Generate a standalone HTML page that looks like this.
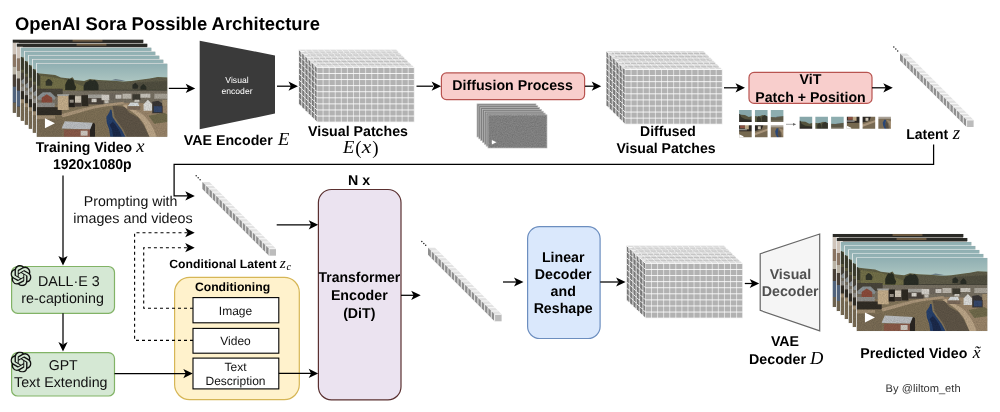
<!DOCTYPE html>
<html><head><meta charset="utf-8"><title>OpenAI Sora Possible Architecture</title>
<style>
html,body{margin:0;padding:0;background:#fff;}
body{width:1000px;height:412px;overflow:hidden;font-family:"Liberation Sans",sans-serif;}
svg{display:block;text-rendering:geometricPrecision;opacity:0.999}
</style></head><body>
<svg width="1000" height="412" viewBox="0 0 1000 412">
<defs>

<linearGradient id="sky" x1="0" y1="0" x2="0" y2="1"><stop offset="0" stop-color="#8cacb0"/><stop offset="1" stop-color="#b0c8c3"/></linearGradient>
<filter id="b1" x="-5%" y="-5%" width="110%" height="110%"><feGaussianBlur stdDeviation="0.55"/></filter>
<filter id="b2" x="-5%" y="-5%" width="110%" height="110%"><feGaussianBlur stdDeviation="0.9"/></filter>
<filter id="grain" x="0" y="0" width="100%" height="100%"><feTurbulence type="fractalNoise" baseFrequency="0.9" numOctaves="2" seed="3" result="n"/><feColorMatrix type="matrix" values="0 0 0 0 0  0 0 0 0 0  0 0 0 0 0  0.9 0 0 -0.42 0"/></filter>
<filter id="grain2" x="0" y="0" width="100%" height="100%"><feTurbulence type="fractalNoise" baseFrequency="0.8" numOctaves="2" seed="7" result="n"/><feColorMatrix type="matrix" values="0 0 0 0 1  0 0 0 0 1  0 0 0 0 1  0.9 0 0 -0.42 0"/></filter>
<clipPath id="land"><path d="M-2,9.8 L8.7,10.9 18.4,11.9 24.2,14.3 33,15.3 35.9,14.1 37.8,16.7 47.5,17.7 53.4,15.8 62.1,16.7 72.7,17.2 87.3,18.2 95,17.7 105.7,16.3 113.5,15.3 121.3,13.8 133,14.3 V75 H-2Z"/></clipPath>
<clipPath id="sc"><rect width="131" height="73"/></clipPath>
<symbol id="scene" viewBox="0 0 131 73" preserveAspectRatio="none">
<g clip-path="url(#sc)">
<rect width="131" height="73" fill="#6f634c"/>
<g filter="url(#b1)">
<rect x="-2" y="-2" width="135" height="22" fill="url(#sky)"/>
<!-- hills -->
<path d="M-2,9.3 L8.7,10.4 18.4,11.4 24.2,13.8 33,14.8 35.9,13.6 37.8,16.2 47.5,17.2 53.4,15.3 62.1,16.2 72.7,16.7 87.3,17.7 95,17.2 105.7,15.8 113.5,14.8 121.3,13.3 133,13.8 V32 H-2Z" fill="#5e5d43"/>
<path d="M60,17 L87,18.5 100,17.5 121,14 133,14.5 V30 H60Z" fill="#5e5c49"/>
<path d="M100,19 L133,17 V30 H96Z" fill="#514f40"/>
<path d="M4,12 L24,14.8 36,18.5 48,23 52,26 30,28 4,26Z" fill="#737048"/>
<!-- far mountains -->
<path d="M74,16.8 l5,-1.4 6,1 5,1.2Z" fill="#6b7c86"/>
<!-- trees -->
<path d="M-1,10 l2,-1 2,3 0,10 -5,0Z" fill="#3a3c2e"/>
<path d="M9,17.5 l2.5,-2.5 2.5,1 2,3 -1,3 -6,0Z" fill="#33362a"/>
<path d="M28.5,21 l1.5,-3.5 2,-2.5 1.5,1 1,-1.5 2.5,2 1,4 1.5,3 -1,3 -10,0Z" fill="#2b2e24"/>
<path d="M47,22 l2,-3.5 2.5,-1 2,-1.5 2.5,1 2,-1 2.5,2 1.5,3.5 0,5.5 -15,0Z" fill="#2c2f26"/>
<path d="M62,26 h70 v2.5 h-70Z" fill="#48473b"/>
<path d="M96,21 l3,-2 3,3 -1,3 -5,0Z M104,23 l3,-3 3,3 0,3 -6,0Z" fill="#2c2e27"/>
<!-- town band -->
<rect x="-2" y="27" width="135" height="14" fill="#776f62"/>
<path d="M-2,25 H26 V33 H-2Z" fill="#4a453a"/>
<!-- ground -->
<path d="M-2,41 H133 V75 H-2Z" fill="#83745a"/>
<path d="M-2,51 L25,50 60,42 74,40 73,48 69,54 70,60 74,75 -2,75Z" fill="#7e7056"/>
<path d="M76,42 L88,43 93,49 102,54 107,61 114,75 91,75 87,66 82,59 78,53Z" fill="#5e5547"/>
<path d="M86,39 L133,40 133,75 118,75 110,60 103,52 94,47 88,43Z" fill="#9a856a"/>
<path d="M112,52 L128,49 133,52 133,58 118,60Z" fill="#706b4b"/>
<!-- roads -->
<path d="M24,50.5 C38,47 52,42.5 66,40.5 L87,38 87.5,40.5 67,43 C54,45 40,50 26,53.5Z" fill="#ad987b"/>
<path d="M86,42 C94,47 103,52 108,61 L114,75 121,75 C117,62 110,52 102,48 C96,45 92,43 89,40.5Z" fill="#bca688"/>
<path d="M-2,52.2 L18.4,51.8 18.4,54.7 -2,55.5Z" fill="#a08d72"/>
<!-- river -->
<path d="M73.5,46 L73,48.4 69.8,53.2 70.2,59 72.6,65.8 74,75 90,75 85,65.8 80,59 76,53.2 75.4,48.4 75,46Z" fill="#27406c"/>
<path d="M73,61 L75.5,66 77,75 86,75 82.5,66 79,61 76.5,58Z" fill="#1b2a4c"/>

<!-- buildings left -->
<path d="M0.5,33 L6,28.5 14,28.5 19,33.5 18,36 1,36Z" fill="#8c9396"/>
<path d="M4.8,34 L10,30.5 15.5,34 15.5,39 4.8,39Z" fill="#8b4c3b"/>
<rect x="0.5" y="39" width="17.5" height="4.5" fill="#8f8e8a"/>
<rect x="-1" y="43.5" width="26" height="7.8" fill="#322d28"/>
<rect x="21" y="31.3" width="11" height="15" fill="#c5ae8b"/>
<rect x="20.5" y="30.5" width="12" height="1.8" fill="#a8a8a4"/>
<rect x="32" y="31.5" width="6.3" height="12" fill="#27231f"/>
<rect x="38.3" y="32.5" width="6.5" height="10" fill="#cfc6b6"/>
<rect x="38.3" y="39" width="6.5" height="4" fill="#4a4037"/>
<rect x="44.8" y="31.5" width="7" height="11" fill="#2d2924"/>
<rect x="51.4" y="30.8" width="15.6" height="4" fill="#a5a39c"/>
<rect x="51.4" y="34.5" width="15.6" height="6" fill="#4a433a"/>
<rect x="65" y="31" width="8" height="5.5" fill="#d3cfc8"/>
<rect x="73" y="30" width="12" height="6" fill="#6f695f"/>
<rect x="79" y="31" width="6" height="4" fill="#cfcbc4"/>
<rect x="86" y="30" width="9" height="5" fill="#bdb8ae"/>
<rect x="96" y="30.5" width="8" height="6" fill="#3e3a32"/>
<rect x="104" y="30" width="10" height="4" fill="#c9c5bc"/>
<rect x="118" y="30" width="13" height="5" fill="#aaa59a"/>
<rect x="55" y="35" width="5" height="3.5" fill="#d8d4cc"/><rect x="68" y="36.5" width="4" height="3" fill="#c9c4ba"/><rect x="98" y="36" width="5" height="2.5" fill="#cdc9c0"/><rect x="120" y="43" width="6" height="3" fill="#b9b09c"/><rect x="33" y="36" width="4" height="3" fill="#9c958a"/>
<!-- tent, white house -->
<path d="M91.2,42.5 L94,38.7 101.8,39 103,42.5Z" fill="#d6dadb"/>
<path d="M91,42.5 h13 v3.5 h-13Z" fill="#7b6b5a"/>
<path d="M107.2,40.5 L111.5,36 115.9,40.5 115.9,47 107.2,47Z" fill="#dcdcd9"/>
<path d="M115.9,38 l6,-1 4.5,3 0,9.5 -10.5,0Z" fill="#383634"/>
<path d="M117.5,42.5 h8 v6 h-8Z" fill="#34476b"/>
<rect x="126" y="36" width="5" height="6" fill="#a08e70"/>
<!-- foreground roof -->
<path d="M24.7,64.9 L28.1,57.6 56.3,59 54.3,65.8Z" fill="#bcbfc2"/>
<path d="M27.2,65.8 H53.4 V75 H27.2Z" fill="#8a5a4a"/>
<rect x="44" y="67" width="7" height="5" fill="#cfc9c0"/>
<path d="M53.4,66 l3,-7 2,1 0,15 -5,0Z" fill="#2a2520"/>
<rect x="-1" y="56" width="26" height="19" fill="#7a6c54"/>
</g>
<g clip-path="url(#land)"><rect width="131" height="73" filter="url(#grain)" opacity="0.22"/></g>
<polygon points="8.2,54.5 8.2,64.6 18.2,59.5" fill="#fff"/>
</g>
</symbol>
<symbol id="sceneDark" viewBox="0 0 131 73" preserveAspectRatio="none">
<g clip-path="url(#sc)">
<rect width="131" height="73" fill="#3a342c"/>
<g filter="url(#b1)">
<rect x="-2" y="-2" width="135" height="5" fill="#2b2a27"/>
<rect x="60" y="-1" width="30" height="3" fill="#6a5840"/>
<rect x="-2" y="3" width="8" height="12" fill="#cfc4ba"/>
<rect x="-2" y="15" width="8" height="12" fill="#8a7564"/>
<rect x="-2" y="27" width="8" height="8" fill="#b9b2a4"/>
<rect x="-2" y="35" width="8" height="12" fill="#4a4038"/>
<rect x="-2" y="47" width="8" height="16" fill="#51647c"/>
<rect x="-2" y="63" width="8" height="12" fill="#6d6250"/>
</g>
</g>
</symbol>
<symbol id="oai" viewBox="0 0 24 24"><path fill="#111" d="M22.2819 9.8211a5.9847 5.9847 0 0 0-.5157-4.9108 6.0462 6.0462 0 0 0-6.5098-2.9A6.0651 6.0651 0 0 0 4.9807 4.1818a5.9847 5.9847 0 0 0-3.9977 2.9 6.0462 6.0462 0 0 0 .7427 7.0966 5.98 5.98 0 0 0 .511 4.9107 6.051 6.051 0 0 0 6.5146 2.9001A5.9847 5.9847 0 0 0 13.2599 24a6.0557 6.0557 0 0 0 5.7718-4.2058 5.9894 5.9894 0 0 0 3.9977-2.9001 6.0557 6.0557 0 0 0-.7475-7.0729zm-9.022 12.6081a4.4755 4.4755 0 0 1-2.8764-1.0408l.1419-.0804 4.7783-2.7582a.7948.7948 0 0 0 .3927-.6813v-6.7369l2.02 1.1686a.071.071 0 0 1 .038.052v5.5826a4.504 4.504 0 0 1-4.4945 4.4944zm-9.6607-4.1254a4.4708 4.4708 0 0 1-.5346-3.0137l.142.0852 4.783 2.7582a.7712.7712 0 0 0 .7806 0l5.8428-3.3685v2.3324a.0804.0804 0 0 1-.0332.0615L9.74 19.9502a4.4992 4.4992 0 0 1-6.1408-1.6464zM2.3408 7.8956a4.485 4.485 0 0 1 2.3655-1.9728V11.6a.7664.7664 0 0 0 .3879.6765l5.8144 3.3543-2.0201 1.1685a.0757.0757 0 0 1-.071 0l-4.8303-2.7865A4.504 4.504 0 0 1 2.3408 7.872zm16.5963 3.8558L13.1038 8.364 15.1192 7.2a.0757.0757 0 0 1 .071 0l4.8303 2.7913a4.4944 4.4944 0 0 1-.6765 8.1042v-5.6772a.79.79 0 0 0-.407-.667zm2.0107-3.0231l-.142-.0852-4.7735-2.7818a.7759.7759 0 0 0-.7854 0L9.409 9.2297V6.8974a.0662.0662 0 0 1 .0284-.0615l4.8303-2.7866a4.4992 4.4992 0 0 1 6.6802 4.66zM8.3065 12.863l-2.02-1.1638a.0804.0804 0 0 1-.038-.0567V6.0742a4.4992 4.4992 0 0 1 7.3757-3.4537l-.142.0805L8.704 5.459a.7948.7948 0 0 0-.3927.6813zm1.0976-2.3654l2.602-1.4998 2.6069 1.4998v2.9994l-2.5974 1.4997-2.6067-1.4997Z"/></symbol>
<symbol id="patch0" viewBox="0 0 13 12" preserveAspectRatio="none"><g filter="url(#b1)"><rect x="-1" y="-1" width="15" height="14" fill="#86a6a9"/><path d="M-1,4.5 L6,5 10,7 14,6 14,13 -1,13Z" fill="#54533c"/><path d="M-1,4 l2,0 1,3 4,2 8,1 0,3 -15,0Z" fill="#33332a"/><rect x="-1" y="10" width="15" height="3" fill="#2e2b26"/></g></symbol>
<symbol id="patch1" viewBox="0 0 13 12" preserveAspectRatio="none"><g filter="url(#b1)"><rect x="-1" y="-1" width="15" height="14" fill="#8aaaad"/><path d="M-1,6 L4,6.5 8,5 14,7 14,13 -1,13Z" fill="#595840"/><path d="M2,8 l2,-2 2,2 1,5 -5,0Z M7,7 l3,-2 4,2 0,6 -7,0Z" fill="#34352b"/></g></symbol>
<symbol id="patch2" viewBox="0 0 13 12" preserveAspectRatio="none"><g filter="url(#b1)"><rect x="-1" y="-1" width="15" height="14" fill="#8dadaf"/><path d="M-1,7 L5,7.3 9,6.5 14,6 14,13 -1,13Z" fill="#5b5947"/><path d="M4,7.2 l3,-0.6 3,0.5Z" fill="#66788a"/><rect x="-1" y="10.5" width="15" height="3" fill="#7d7666"/></g></symbol>
<symbol id="patch3" viewBox="0 0 13 12" preserveAspectRatio="none"><g filter="url(#b1)"><rect x="-1" y="-1" width="15" height="14" fill="#75674f"/><rect x="-1" y="-1" width="15" height="7" fill="#2b2723"/><rect x="1" y="0" width="5" height="3" fill="#8a5040"/><rect x="6" y="-1" width="4" height="5" fill="#bca887"/><rect x="0" y="3.5" width="8" height="1.5" fill="#8e8d89"/></g><polygon points="0,9 0,13 4.5,13 4.5,11" fill="#fff"/></symbol>
<symbol id="patch4" viewBox="0 0 13 12" preserveAspectRatio="none"><g filter="url(#b1)"><rect x="-1" y="-1" width="15" height="14" fill="#786a52"/><path d="M-1,-1 H9 L7,4 -1,6Z" fill="#2c2824"/><path d="M3,1 h3 v3 h-3Z" fill="#cfc6b6"/><path d="M-1,8 L14,3 14,5 -1,10.5Z" fill="#a8947a"/></g></symbol>
<symbol id="patch5" viewBox="0 0 13 12" preserveAspectRatio="none"><g filter="url(#b1)"><rect x="-1" y="-1" width="15" height="14" fill="#7c6d56"/><rect x="-1" y="-1" width="15" height="3" fill="#a9a196"/><path d="M6,3 L4.5,6 5,9 7,13 10,13 8,9 7.5,6 8,3Z" fill="#2b4777"/><path d="M8.5,3 L11,7 13,13 14,13 14,5Z" fill="#9f8b70"/><path d="M8,4 l2,3 1,6 -2.5,0 -1.5,-4Z" fill="#574e42"/></g></symbol>

</defs>
<rect width="1000" height="412" fill="#fff"/>
<text x="15" y="29.6" font-family="Liberation Sans" font-size="18.4" font-weight="bold" text-anchor="start" fill="#000" textLength="305" lengthAdjust="spacingAndGlyphs">OpenAI Sora Possible Architecture</text>
<rect x="12.00" y="39.20" width="131.5" height="74" fill="#f4f6f6"/>
<use href="#sceneDark" x="12.80" y="39.70" width="130.5" height="73.0"/>
<rect x="16.00" y="43.20" width="131.5" height="74" fill="#f4f6f6"/>
<use href="#sceneDark" x="16.80" y="43.70" width="130.5" height="73.0"/>
<rect x="20.00" y="47.20" width="131.5" height="74" fill="#f4f6f6"/>
<use href="#scene" x="20.80" y="47.70" width="130.5" height="73.0"/>
<rect x="24.00" y="51.20" width="131.5" height="74" fill="#f4f6f6"/>
<use href="#scene" x="24.80" y="51.70" width="130.5" height="73.0"/>
<rect x="28.00" y="55.20" width="131.5" height="74" fill="#f4f6f6"/>
<use href="#scene" x="28.80" y="55.70" width="130.5" height="73.0"/>
<rect x="32.00" y="59.20" width="131.5" height="74" fill="#f4f6f6"/>
<use href="#scene" x="32.80" y="59.70" width="130.5" height="73.0"/>
<rect x="36.00" y="63.20" width="131.5" height="74" fill="#f4f6f6"/>
<use href="#scene" x="36.80" y="63.70" width="130.5" height="73.0"/>
<text x="35.7" y="151.6" font-family="Liberation Sans" font-size="14.2" font-weight="bold" text-anchor="start" fill="#000" textLength="96.5" lengthAdjust="spacingAndGlyphs">Training Video</text>
<text x="136.3" y="151.6" font-family="Liberation Serif" font-style="italic" font-size="18.5" text-anchor="start" fill="#000">x</text>
<text x="92.3" y="169.3" font-family="Liberation Sans" font-size="14.2" font-weight="bold" text-anchor="middle" fill="#000" textLength="78.8" lengthAdjust="spacingAndGlyphs">1920x1080p</text>
<path d="M168.8,88.4H188" fill="none" stroke="#000" stroke-width="1.25"/><polygon points="0.2,0 -9.3,-4.6 -6.9,0 -9.3,4.6" fill="#000" transform="translate(195,88.4) rotate(0)"/>
<polygon points="199.7,40.7 275,55.4 275,113.6 199.7,129.2" fill="#3a3a3a"/>
<text x="237" y="83" font-family="Liberation Sans" font-size="8.6" font-weight="normal" text-anchor="middle" fill="#fff">Visual</text>
<text x="237" y="93.6" font-family="Liberation Sans" font-size="8.6" font-weight="normal" text-anchor="middle" fill="#fff">encoder</text>
<text x="183.8" y="144.8" font-family="Liberation Sans" font-size="14.2" font-weight="bold" text-anchor="start" fill="#000" textLength="89" lengthAdjust="spacingAndGlyphs">VAE Encoder</text>
<text x="278" y="144.8" font-family="Liberation Serif" font-style="italic" font-size="18.5" text-anchor="start" fill="#000">E</text>
<path d="M277,86.2H291" fill="none" stroke="#000" stroke-width="1.25"/><polygon points="0.2,0 -9.3,-4.6 -6.9,0 -9.3,4.6" fill="#000" transform="translate(297.8,86.2) rotate(0)"/>
<rect x="301.00" y="51.60" width="97.28" height="54.72" fill="#b2b2b2"/>
<polygon points="301.00,51.60 398.28,51.60 396.18,49.50 298.90,49.50" fill="#dcdcdc"/>
<polygon points="301.00,51.60 301.00,106.32 298.90,104.22 298.90,49.50" fill="#777"/>
<path d="M301.00,55.06V51.60l-2.10,-2.10M307.08,55.06V51.60l-2.10,-2.10M313.16,55.06V51.60l-2.10,-2.10M319.24,55.06V51.60l-2.10,-2.10M325.32,55.06V51.60l-2.10,-2.10M331.40,55.06V51.60l-2.10,-2.10M337.48,55.06V51.60l-2.10,-2.10M343.56,55.06V51.60l-2.10,-2.10M349.64,55.06V51.60l-2.10,-2.10M355.72,55.06V51.60l-2.10,-2.10M361.80,55.06V51.60l-2.10,-2.10M367.88,55.06V51.60l-2.10,-2.10M373.96,55.06V51.60l-2.10,-2.10M380.04,55.06V51.60l-2.10,-2.10M386.12,55.06V51.60l-2.10,-2.10M392.20,55.06V51.60l-2.10,-2.10M398.28,55.06V51.60l-2.10,-2.10" fill="none" stroke="#fff" stroke-width="0.6"/>
<path d="M304.50,51.60H301.00l-2.10,-2.10M304.50,57.68H301.00l-2.10,-2.10M304.50,63.76H301.00l-2.10,-2.10M304.50,69.84H301.00l-2.10,-2.10M304.50,75.92H301.00l-2.10,-2.10M304.50,82.00H301.00l-2.10,-2.10M304.50,88.08H301.00l-2.10,-2.10M304.50,94.16H301.00l-2.10,-2.10M304.50,100.24H301.00l-2.10,-2.10M304.50,106.32H301.00l-2.10,-2.10" fill="none" stroke="#fff" stroke-width="0.85"/>
<path d="M396.18,49.30H298.70V104.22" fill="none" stroke="#fff" stroke-width="0.35"/>
<rect x="304.20" y="54.76" width="97.28" height="54.72" fill="#b2b2b2"/>
<polygon points="304.20,54.76 401.48,54.76 399.38,52.66 302.10,52.66" fill="#dcdcdc"/>
<polygon points="304.20,54.76 304.20,109.48 302.10,107.38 302.10,52.66" fill="#777"/>
<path d="M304.20,58.22V54.76l-2.10,-2.10M310.28,58.22V54.76l-2.10,-2.10M316.36,58.22V54.76l-2.10,-2.10M322.44,58.22V54.76l-2.10,-2.10M328.52,58.22V54.76l-2.10,-2.10M334.60,58.22V54.76l-2.10,-2.10M340.68,58.22V54.76l-2.10,-2.10M346.76,58.22V54.76l-2.10,-2.10M352.84,58.22V54.76l-2.10,-2.10M358.92,58.22V54.76l-2.10,-2.10M365.00,58.22V54.76l-2.10,-2.10M371.08,58.22V54.76l-2.10,-2.10M377.16,58.22V54.76l-2.10,-2.10M383.24,58.22V54.76l-2.10,-2.10M389.32,58.22V54.76l-2.10,-2.10M395.40,58.22V54.76l-2.10,-2.10M401.48,58.22V54.76l-2.10,-2.10" fill="none" stroke="#fff" stroke-width="0.6"/>
<path d="M307.70,54.76H304.20l-2.10,-2.10M307.70,60.84H304.20l-2.10,-2.10M307.70,66.92H304.20l-2.10,-2.10M307.70,73.00H304.20l-2.10,-2.10M307.70,79.08H304.20l-2.10,-2.10M307.70,85.16H304.20l-2.10,-2.10M307.70,91.24H304.20l-2.10,-2.10M307.70,97.32H304.20l-2.10,-2.10M307.70,103.40H304.20l-2.10,-2.10M307.70,109.48H304.20l-2.10,-2.10" fill="none" stroke="#fff" stroke-width="0.85"/>
<path d="M399.38,52.46H301.90V107.38" fill="none" stroke="#fff" stroke-width="0.35"/>
<rect x="307.40" y="57.92" width="97.28" height="54.72" fill="#b2b2b2"/>
<polygon points="307.40,57.92 404.68,57.92 402.58,55.82 305.30,55.82" fill="#dcdcdc"/>
<polygon points="307.40,57.92 307.40,112.64 305.30,110.54 305.30,55.82" fill="#777"/>
<path d="M307.40,61.38V57.92l-2.10,-2.10M313.48,61.38V57.92l-2.10,-2.10M319.56,61.38V57.92l-2.10,-2.10M325.64,61.38V57.92l-2.10,-2.10M331.72,61.38V57.92l-2.10,-2.10M337.80,61.38V57.92l-2.10,-2.10M343.88,61.38V57.92l-2.10,-2.10M349.96,61.38V57.92l-2.10,-2.10M356.04,61.38V57.92l-2.10,-2.10M362.12,61.38V57.92l-2.10,-2.10M368.20,61.38V57.92l-2.10,-2.10M374.28,61.38V57.92l-2.10,-2.10M380.36,61.38V57.92l-2.10,-2.10M386.44,61.38V57.92l-2.10,-2.10M392.52,61.38V57.92l-2.10,-2.10M398.60,61.38V57.92l-2.10,-2.10M404.68,61.38V57.92l-2.10,-2.10" fill="none" stroke="#fff" stroke-width="0.6"/>
<path d="M310.90,57.92H307.40l-2.10,-2.10M310.90,64.00H307.40l-2.10,-2.10M310.90,70.08H307.40l-2.10,-2.10M310.90,76.16H307.40l-2.10,-2.10M310.90,82.24H307.40l-2.10,-2.10M310.90,88.32H307.40l-2.10,-2.10M310.90,94.40H307.40l-2.10,-2.10M310.90,100.48H307.40l-2.10,-2.10M310.90,106.56H307.40l-2.10,-2.10M310.90,112.64H307.40l-2.10,-2.10" fill="none" stroke="#fff" stroke-width="0.85"/>
<path d="M402.58,55.62H305.10V110.54" fill="none" stroke="#fff" stroke-width="0.35"/>
<rect x="310.60" y="61.08" width="97.28" height="54.72" fill="#b2b2b2"/>
<polygon points="310.60,61.08 407.88,61.08 405.78,58.98 308.50,58.98" fill="#dcdcdc"/>
<polygon points="310.60,61.08 310.60,115.80 308.50,113.70 308.50,58.98" fill="#777"/>
<path d="M310.60,64.54V61.08l-2.10,-2.10M316.68,64.54V61.08l-2.10,-2.10M322.76,64.54V61.08l-2.10,-2.10M328.84,64.54V61.08l-2.10,-2.10M334.92,64.54V61.08l-2.10,-2.10M341.00,64.54V61.08l-2.10,-2.10M347.08,64.54V61.08l-2.10,-2.10M353.16,64.54V61.08l-2.10,-2.10M359.24,64.54V61.08l-2.10,-2.10M365.32,64.54V61.08l-2.10,-2.10M371.40,64.54V61.08l-2.10,-2.10M377.48,64.54V61.08l-2.10,-2.10M383.56,64.54V61.08l-2.10,-2.10M389.64,64.54V61.08l-2.10,-2.10M395.72,64.54V61.08l-2.10,-2.10M401.80,64.54V61.08l-2.10,-2.10M407.88,64.54V61.08l-2.10,-2.10" fill="none" stroke="#fff" stroke-width="0.6"/>
<path d="M314.10,61.08H310.60l-2.10,-2.10M314.10,67.16H310.60l-2.10,-2.10M314.10,73.24H310.60l-2.10,-2.10M314.10,79.32H310.60l-2.10,-2.10M314.10,85.40H310.60l-2.10,-2.10M314.10,91.48H310.60l-2.10,-2.10M314.10,97.56H310.60l-2.10,-2.10M314.10,103.64H310.60l-2.10,-2.10M314.10,109.72H310.60l-2.10,-2.10M314.10,115.80H310.60l-2.10,-2.10" fill="none" stroke="#fff" stroke-width="0.85"/>
<path d="M405.78,58.78H308.30V113.70" fill="none" stroke="#fff" stroke-width="0.35"/>
<rect x="313.80" y="64.24" width="97.28" height="54.72" fill="#b2b2b2"/>
<polygon points="313.80,64.24 411.08,64.24 408.98,62.14 311.70,62.14" fill="#dcdcdc"/>
<polygon points="313.80,64.24 313.80,118.96 311.70,116.86 311.70,62.14" fill="#777"/>
<path d="M313.80,67.70V64.24l-2.10,-2.10M319.88,67.70V64.24l-2.10,-2.10M325.96,67.70V64.24l-2.10,-2.10M332.04,67.70V64.24l-2.10,-2.10M338.12,67.70V64.24l-2.10,-2.10M344.20,67.70V64.24l-2.10,-2.10M350.28,67.70V64.24l-2.10,-2.10M356.36,67.70V64.24l-2.10,-2.10M362.44,67.70V64.24l-2.10,-2.10M368.52,67.70V64.24l-2.10,-2.10M374.60,67.70V64.24l-2.10,-2.10M380.68,67.70V64.24l-2.10,-2.10M386.76,67.70V64.24l-2.10,-2.10M392.84,67.70V64.24l-2.10,-2.10M398.92,67.70V64.24l-2.10,-2.10M405.00,67.70V64.24l-2.10,-2.10M411.08,67.70V64.24l-2.10,-2.10" fill="none" stroke="#fff" stroke-width="0.6"/>
<path d="M317.30,64.24H313.80l-2.10,-2.10M317.30,70.32H313.80l-2.10,-2.10M317.30,76.40H313.80l-2.10,-2.10M317.30,82.48H313.80l-2.10,-2.10M317.30,88.56H313.80l-2.10,-2.10M317.30,94.64H313.80l-2.10,-2.10M317.30,100.72H313.80l-2.10,-2.10M317.30,106.80H313.80l-2.10,-2.10M317.30,112.88H313.80l-2.10,-2.10M317.30,118.96H313.80l-2.10,-2.10" fill="none" stroke="#fff" stroke-width="0.85"/>
<path d="M408.98,61.94H311.50V116.86" fill="none" stroke="#fff" stroke-width="0.35"/>
<rect x="317.00" y="67.40" width="97.28" height="54.72" fill="#b2b2b2"/>
<polygon points="317.00,67.40 414.28,67.40 412.18,65.30 314.90,65.30" fill="#dcdcdc"/>
<polygon points="317.00,67.40 317.00,122.12 314.90,120.02 314.90,65.30" fill="#777"/>
<path d="M317.00,122.12V67.40l-2.10,-2.10M323.08,122.12V67.40l-2.10,-2.10M329.16,122.12V67.40l-2.10,-2.10M335.24,122.12V67.40l-2.10,-2.10M341.32,122.12V67.40l-2.10,-2.10M347.40,122.12V67.40l-2.10,-2.10M353.48,122.12V67.40l-2.10,-2.10M359.56,122.12V67.40l-2.10,-2.10M365.64,122.12V67.40l-2.10,-2.10M371.72,122.12V67.40l-2.10,-2.10M377.80,122.12V67.40l-2.10,-2.10M383.88,122.12V67.40l-2.10,-2.10M389.96,122.12V67.40l-2.10,-2.10M396.04,122.12V67.40l-2.10,-2.10M402.12,122.12V67.40l-2.10,-2.10M408.20,122.12V67.40l-2.10,-2.10M414.28,122.12V67.40l-2.10,-2.10" fill="none" stroke="#fff" stroke-width="0.6"/>
<path d="M414.28,67.40H317.00l-2.10,-2.10M414.28,73.48H317.00l-2.10,-2.10M414.28,79.56H317.00l-2.10,-2.10M414.28,85.64H317.00l-2.10,-2.10M414.28,91.72H317.00l-2.10,-2.10M414.28,97.80H317.00l-2.10,-2.10M414.28,103.88H317.00l-2.10,-2.10M414.28,109.96H317.00l-2.10,-2.10M414.28,116.04H317.00l-2.10,-2.10M414.28,122.12H317.00l-2.10,-2.10" fill="none" stroke="#fff" stroke-width="0.85"/>
<path d="M412.18,65.10H314.70V120.02" fill="none" stroke="#fff" stroke-width="0.35"/>
<text x="358" y="136.1" font-family="Liberation Sans" font-size="14.2" font-weight="bold" text-anchor="middle" fill="#000" textLength="100" lengthAdjust="spacingAndGlyphs">Visual Patches</text>
<text x="343" y="153.2" font-family="Liberation Serif" font-style="italic" font-size="18.5" text-anchor="start" fill="#000">E</text>
<text y="153.2" font-family="Liberation Serif" font-size="19"><tspan x="355.3" dy="0.5">(</tspan><tspan x="361.8" dy="-0.5" font-style="italic" textLength="9.6" lengthAdjust="spacingAndGlyphs">x</tspan><tspan x="372.3" dy="0.5">)</tspan></text>
<path d="M416.5,86.2H433" fill="none" stroke="#000" stroke-width="1.25"/><polygon points="0.2,0 -9.3,-4.6 -6.9,0 -9.3,4.6" fill="#000" transform="translate(440.9,86.2) rotate(0)"/>
<rect x="441.4" y="72.9" width="143.2" height="26.7" rx="5" fill="#f8cecc" stroke="#b85450" stroke-width="1.2"/>
<text x="512.6" y="89.9" font-family="Liberation Sans" font-size="14.2" font-weight="bold" text-anchor="middle" fill="#000" textLength="120.6" lengthAdjust="spacingAndGlyphs">Diffusion Process</text>
<path d="M585,86.2H594" fill="none" stroke="#000" stroke-width="1.25"/><polygon points="0.2,0 -9.3,-4.6 -6.9,0 -9.3,4.6" fill="#000" transform="translate(601,86.2) rotate(0)"/>
<g id="noisy">
<rect x="477.00" y="103.90" width="59" height="33.1" fill="#7e7e7e" stroke="#bcbcbc" stroke-width="0.7"/>
<rect x="478.83" y="105.73" width="59" height="33.1" fill="#7e7e7e" stroke="#bcbcbc" stroke-width="0.7"/>
<rect x="480.66" y="107.56" width="59" height="33.1" fill="#7e7e7e" stroke="#bcbcbc" stroke-width="0.7"/>
<rect x="482.49" y="109.39" width="59" height="33.1" fill="#7e7e7e" stroke="#bcbcbc" stroke-width="0.7"/>
<rect x="484.32" y="111.22" width="59" height="33.1" fill="#7e7e7e" stroke="#bcbcbc" stroke-width="0.7"/>
<rect x="486.15" y="113.05" width="59" height="33.1" fill="#7e7e7e" stroke="#bcbcbc" stroke-width="0.7"/>
<rect x="487.98" y="114.88" width="59" height="33.1" fill="#7e7e7e" stroke="#bcbcbc" stroke-width="0.7"/>
<rect x="488" y="114.9" width="59" height="33.1" filter="url(#grain)" opacity="0.2"/>
<rect x="488" y="114.9" width="59" height="33.1" filter="url(#grain2)" opacity="0.18"/>
<polygon points="491.8,140 491.8,144.6 496.5,142.3" fill="#fff"/>
</g>
<rect x="608.40" y="53.00" width="97.28" height="54.72" fill="#b2b2b2"/>
<polygon points="608.40,53.00 705.68,53.00 703.58,50.90 606.30,50.90" fill="#dcdcdc"/>
<polygon points="608.40,53.00 608.40,107.72 606.30,105.62 606.30,50.90" fill="#777"/>
<path d="M608.40,56.60V53.00l-2.10,-2.10M614.48,56.60V53.00l-2.10,-2.10M620.56,56.60V53.00l-2.10,-2.10M626.64,56.60V53.00l-2.10,-2.10M632.72,56.60V53.00l-2.10,-2.10M638.80,56.60V53.00l-2.10,-2.10M644.88,56.60V53.00l-2.10,-2.10M650.96,56.60V53.00l-2.10,-2.10M657.04,56.60V53.00l-2.10,-2.10M663.12,56.60V53.00l-2.10,-2.10M669.20,56.60V53.00l-2.10,-2.10M675.28,56.60V53.00l-2.10,-2.10M681.36,56.60V53.00l-2.10,-2.10M687.44,56.60V53.00l-2.10,-2.10M693.52,56.60V53.00l-2.10,-2.10M699.60,56.60V53.00l-2.10,-2.10M705.68,56.60V53.00l-2.10,-2.10" fill="none" stroke="#fff" stroke-width="0.6"/>
<path d="M612.02,53.00H608.40l-2.10,-2.10M612.02,59.08H608.40l-2.10,-2.10M612.02,65.16H608.40l-2.10,-2.10M612.02,71.24H608.40l-2.10,-2.10M612.02,77.32H608.40l-2.10,-2.10M612.02,83.40H608.40l-2.10,-2.10M612.02,89.48H608.40l-2.10,-2.10M612.02,95.56H608.40l-2.10,-2.10M612.02,101.64H608.40l-2.10,-2.10M612.02,107.72H608.40l-2.10,-2.10" fill="none" stroke="#fff" stroke-width="0.85"/>
<path d="M703.58,50.70H606.10V105.62" fill="none" stroke="#fff" stroke-width="0.35"/>
<rect x="611.72" y="56.30" width="97.28" height="54.72" fill="#b2b2b2"/>
<polygon points="611.72,56.30 709.00,56.30 706.90,54.20 609.62,54.20" fill="#dcdcdc"/>
<polygon points="611.72,56.30 611.72,111.02 609.62,108.92 609.62,54.20" fill="#777"/>
<path d="M611.72,59.90V56.30l-2.10,-2.10M617.80,59.90V56.30l-2.10,-2.10M623.88,59.90V56.30l-2.10,-2.10M629.96,59.90V56.30l-2.10,-2.10M636.04,59.90V56.30l-2.10,-2.10M642.12,59.90V56.30l-2.10,-2.10M648.20,59.90V56.30l-2.10,-2.10M654.28,59.90V56.30l-2.10,-2.10M660.36,59.90V56.30l-2.10,-2.10M666.44,59.90V56.30l-2.10,-2.10M672.52,59.90V56.30l-2.10,-2.10M678.60,59.90V56.30l-2.10,-2.10M684.68,59.90V56.30l-2.10,-2.10M690.76,59.90V56.30l-2.10,-2.10M696.84,59.90V56.30l-2.10,-2.10M702.92,59.90V56.30l-2.10,-2.10M709.00,59.90V56.30l-2.10,-2.10" fill="none" stroke="#fff" stroke-width="0.6"/>
<path d="M615.34,56.30H611.72l-2.10,-2.10M615.34,62.38H611.72l-2.10,-2.10M615.34,68.46H611.72l-2.10,-2.10M615.34,74.54H611.72l-2.10,-2.10M615.34,80.62H611.72l-2.10,-2.10M615.34,86.70H611.72l-2.10,-2.10M615.34,92.78H611.72l-2.10,-2.10M615.34,98.86H611.72l-2.10,-2.10M615.34,104.94H611.72l-2.10,-2.10M615.34,111.02H611.72l-2.10,-2.10" fill="none" stroke="#fff" stroke-width="0.85"/>
<path d="M706.90,54.00H609.42V108.92" fill="none" stroke="#fff" stroke-width="0.35"/>
<rect x="615.04" y="59.60" width="97.28" height="54.72" fill="#b2b2b2"/>
<polygon points="615.04,59.60 712.32,59.60 710.22,57.50 612.94,57.50" fill="#dcdcdc"/>
<polygon points="615.04,59.60 615.04,114.32 612.94,112.22 612.94,57.50" fill="#777"/>
<path d="M615.04,63.20V59.60l-2.10,-2.10M621.12,63.20V59.60l-2.10,-2.10M627.20,63.20V59.60l-2.10,-2.10M633.28,63.20V59.60l-2.10,-2.10M639.36,63.20V59.60l-2.10,-2.10M645.44,63.20V59.60l-2.10,-2.10M651.52,63.20V59.60l-2.10,-2.10M657.60,63.20V59.60l-2.10,-2.10M663.68,63.20V59.60l-2.10,-2.10M669.76,63.20V59.60l-2.10,-2.10M675.84,63.20V59.60l-2.10,-2.10M681.92,63.20V59.60l-2.10,-2.10M688.00,63.20V59.60l-2.10,-2.10M694.08,63.20V59.60l-2.10,-2.10M700.16,63.20V59.60l-2.10,-2.10M706.24,63.20V59.60l-2.10,-2.10M712.32,63.20V59.60l-2.10,-2.10" fill="none" stroke="#fff" stroke-width="0.6"/>
<path d="M618.66,59.60H615.04l-2.10,-2.10M618.66,65.68H615.04l-2.10,-2.10M618.66,71.76H615.04l-2.10,-2.10M618.66,77.84H615.04l-2.10,-2.10M618.66,83.92H615.04l-2.10,-2.10M618.66,90.00H615.04l-2.10,-2.10M618.66,96.08H615.04l-2.10,-2.10M618.66,102.16H615.04l-2.10,-2.10M618.66,108.24H615.04l-2.10,-2.10M618.66,114.32H615.04l-2.10,-2.10" fill="none" stroke="#fff" stroke-width="0.85"/>
<path d="M710.22,57.30H612.74V112.22" fill="none" stroke="#fff" stroke-width="0.35"/>
<rect x="618.36" y="62.90" width="97.28" height="54.72" fill="#b2b2b2"/>
<polygon points="618.36,62.90 715.64,62.90 713.54,60.80 616.26,60.80" fill="#dcdcdc"/>
<polygon points="618.36,62.90 618.36,117.62 616.26,115.52 616.26,60.80" fill="#777"/>
<path d="M618.36,66.50V62.90l-2.10,-2.10M624.44,66.50V62.90l-2.10,-2.10M630.52,66.50V62.90l-2.10,-2.10M636.60,66.50V62.90l-2.10,-2.10M642.68,66.50V62.90l-2.10,-2.10M648.76,66.50V62.90l-2.10,-2.10M654.84,66.50V62.90l-2.10,-2.10M660.92,66.50V62.90l-2.10,-2.10M667.00,66.50V62.90l-2.10,-2.10M673.08,66.50V62.90l-2.10,-2.10M679.16,66.50V62.90l-2.10,-2.10M685.24,66.50V62.90l-2.10,-2.10M691.32,66.50V62.90l-2.10,-2.10M697.40,66.50V62.90l-2.10,-2.10M703.48,66.50V62.90l-2.10,-2.10M709.56,66.50V62.90l-2.10,-2.10M715.64,66.50V62.90l-2.10,-2.10" fill="none" stroke="#fff" stroke-width="0.6"/>
<path d="M621.98,62.90H618.36l-2.10,-2.10M621.98,68.98H618.36l-2.10,-2.10M621.98,75.06H618.36l-2.10,-2.10M621.98,81.14H618.36l-2.10,-2.10M621.98,87.22H618.36l-2.10,-2.10M621.98,93.30H618.36l-2.10,-2.10M621.98,99.38H618.36l-2.10,-2.10M621.98,105.46H618.36l-2.10,-2.10M621.98,111.54H618.36l-2.10,-2.10M621.98,117.62H618.36l-2.10,-2.10" fill="none" stroke="#fff" stroke-width="0.85"/>
<path d="M713.54,60.60H616.06V115.52" fill="none" stroke="#fff" stroke-width="0.35"/>
<rect x="621.68" y="66.20" width="97.28" height="54.72" fill="#b2b2b2"/>
<polygon points="621.68,66.20 718.96,66.20 716.86,64.10 619.58,64.10" fill="#dcdcdc"/>
<polygon points="621.68,66.20 621.68,120.92 619.58,118.82 619.58,64.10" fill="#777"/>
<path d="M621.68,69.80V66.20l-2.10,-2.10M627.76,69.80V66.20l-2.10,-2.10M633.84,69.80V66.20l-2.10,-2.10M639.92,69.80V66.20l-2.10,-2.10M646.00,69.80V66.20l-2.10,-2.10M652.08,69.80V66.20l-2.10,-2.10M658.16,69.80V66.20l-2.10,-2.10M664.24,69.80V66.20l-2.10,-2.10M670.32,69.80V66.20l-2.10,-2.10M676.40,69.80V66.20l-2.10,-2.10M682.48,69.80V66.20l-2.10,-2.10M688.56,69.80V66.20l-2.10,-2.10M694.64,69.80V66.20l-2.10,-2.10M700.72,69.80V66.20l-2.10,-2.10M706.80,69.80V66.20l-2.10,-2.10M712.88,69.80V66.20l-2.10,-2.10M718.96,69.80V66.20l-2.10,-2.10" fill="none" stroke="#fff" stroke-width="0.6"/>
<path d="M625.30,66.20H621.68l-2.10,-2.10M625.30,72.28H621.68l-2.10,-2.10M625.30,78.36H621.68l-2.10,-2.10M625.30,84.44H621.68l-2.10,-2.10M625.30,90.52H621.68l-2.10,-2.10M625.30,96.60H621.68l-2.10,-2.10M625.30,102.68H621.68l-2.10,-2.10M625.30,108.76H621.68l-2.10,-2.10M625.30,114.84H621.68l-2.10,-2.10M625.30,120.92H621.68l-2.10,-2.10" fill="none" stroke="#fff" stroke-width="0.85"/>
<path d="M716.86,63.90H619.38V118.82" fill="none" stroke="#fff" stroke-width="0.35"/>
<rect x="625.00" y="69.50" width="97.28" height="54.72" fill="#b2b2b2"/>
<polygon points="625.00,69.50 722.28,69.50 720.18,67.40 622.90,67.40" fill="#dcdcdc"/>
<polygon points="625.00,69.50 625.00,124.22 622.90,122.12 622.90,67.40" fill="#777"/>
<path d="M625.00,124.22V69.50l-2.10,-2.10M631.08,124.22V69.50l-2.10,-2.10M637.16,124.22V69.50l-2.10,-2.10M643.24,124.22V69.50l-2.10,-2.10M649.32,124.22V69.50l-2.10,-2.10M655.40,124.22V69.50l-2.10,-2.10M661.48,124.22V69.50l-2.10,-2.10M667.56,124.22V69.50l-2.10,-2.10M673.64,124.22V69.50l-2.10,-2.10M679.72,124.22V69.50l-2.10,-2.10M685.80,124.22V69.50l-2.10,-2.10M691.88,124.22V69.50l-2.10,-2.10M697.96,124.22V69.50l-2.10,-2.10M704.04,124.22V69.50l-2.10,-2.10M710.12,124.22V69.50l-2.10,-2.10M716.20,124.22V69.50l-2.10,-2.10M722.28,124.22V69.50l-2.10,-2.10" fill="none" stroke="#fff" stroke-width="0.6"/>
<path d="M722.28,69.50H625.00l-2.10,-2.10M722.28,75.58H625.00l-2.10,-2.10M722.28,81.66H625.00l-2.10,-2.10M722.28,87.74H625.00l-2.10,-2.10M722.28,93.82H625.00l-2.10,-2.10M722.28,99.90H625.00l-2.10,-2.10M722.28,105.98H625.00l-2.10,-2.10M722.28,112.06H625.00l-2.10,-2.10M722.28,118.14H625.00l-2.10,-2.10M722.28,124.22H625.00l-2.10,-2.10" fill="none" stroke="#fff" stroke-width="0.85"/>
<path d="M720.18,67.20H622.70V122.12" fill="none" stroke="#fff" stroke-width="0.35"/>
<text x="668" y="136.3" font-family="Liberation Sans" font-size="14.2" font-weight="bold" text-anchor="middle" fill="#000" textLength="55.8" lengthAdjust="spacingAndGlyphs">Diffused</text>
<text x="666" y="153" font-family="Liberation Sans" font-size="14.2" font-weight="bold" text-anchor="middle" fill="#000" textLength="99.2" lengthAdjust="spacingAndGlyphs">Visual Patches</text>
<path d="M724,87.8H738" fill="none" stroke="#000" stroke-width="1.25"/><polygon points="0.2,0 -9.3,-4.6 -6.9,0 -9.3,4.6" fill="#000" transform="translate(744.8,87.8) rotate(0)"/>
<rect x="749" y="72.4" width="123" height="31" rx="5" fill="#f8cecc" stroke="#b85450" stroke-width="1.2"/>
<text x="810.5" y="83.9" font-family="Liberation Sans" font-size="14.2" font-weight="bold" text-anchor="middle" fill="#000">ViT</text>
<text x="810.5" y="101.6" font-family="Liberation Sans" font-size="14.2" font-weight="bold" text-anchor="middle" fill="#000" textLength="110.4" lengthAdjust="spacingAndGlyphs">Patch + Position</text>
<path d="M872,87.8H886" fill="none" stroke="#000" stroke-width="1.25"/><polygon points="0.2,0 -9.3,-4.6 -6.9,0 -9.3,4.6" fill="#000" transform="translate(892.6,87.8) rotate(0)"/>
<g id="patches">
<use href="#patch0" x="739.10" y="110.00" width="12.6" height="12"/>
<use href="#patch1" x="754.95" y="110.00" width="12.6" height="12"/>
<use href="#patch2" x="770.80" y="110.00" width="12.6" height="12"/>
<use href="#patch3" x="739.10" y="125.30" width="12.6" height="12"/>
<use href="#patch4" x="754.95" y="125.30" width="12.6" height="12"/>
<use href="#patch5" x="770.80" y="125.30" width="12.6" height="12"/>
<path d="M786,124.3H794" stroke="#666" stroke-width="0.6" fill="none"/><polygon points="796.2,124.3 793,122.9 793,125.7" fill="#666"/>
<use href="#patch0" x="799.60" y="116.80" width="12.6" height="12"/>
<use href="#patch1" x="815.35" y="116.80" width="12.6" height="12"/>
<use href="#patch2" x="831.10" y="116.80" width="12.6" height="12"/>
<use href="#patch3" x="846.85" y="116.80" width="12.6" height="12"/>
<use href="#patch4" x="862.60" y="116.80" width="12.6" height="12"/>
<use href="#patch5" x="878.35" y="116.80" width="12.6" height="12"/>
</g>
<polygon points="900.00,53.40 907.00,53.40 973.60,120.00 966.60,120.00" fill="#e2e2e2"/>
<polygon points="900.00,53.40 966.60,120.00 966.60,127.00 900.00,60.40" fill="#8f8f8f"/>
<rect x="966.60" y="120.00" width="7.0" height="7.0" fill="#bcbcbc"/>
<path d="M910.33,56.73H903.33V63.73M913.66,60.06H906.66V67.06M916.99,63.39H909.99V70.39M920.32,66.72H913.32V73.72M923.65,70.05H916.65V77.05M926.98,73.38H919.98V80.38M930.31,76.71H923.31V83.71M933.64,80.04H926.64V87.04M936.97,83.37H929.97V90.37M940.30,86.70H933.30V93.70M943.63,90.03H936.63V97.03M946.96,93.36H939.96V100.36M950.29,96.69H943.29V103.69M953.62,100.02H946.62V107.02M956.95,103.35H949.95V110.35M960.28,106.68H953.28V113.68M963.61,110.01H956.61V117.01M966.94,113.34H959.94V120.34M970.27,116.67H963.27V123.67M973.60,120.00H966.60V127.00" fill="none" stroke="#fff" stroke-width="0.8"/>
<circle cx="893.80" cy="47.10" r="0.75" fill="#222"/>
<circle cx="895.80" cy="49.10" r="0.75" fill="#222"/>
<circle cx="897.70" cy="51.00" r="0.75" fill="#222"/>
<text x="906.2" y="138.7" font-family="Liberation Sans" font-size="14.2" font-weight="bold" text-anchor="start" fill="#000" textLength="42" lengthAdjust="spacingAndGlyphs">Latent</text>
<text x="952.8" y="138.7" font-family="Liberation Serif" font-style="italic" font-size="19" text-anchor="start" fill="#000">z</text>
<path d="M933.6,144.4V164.3H174.1V195.9H188" fill="none" stroke="#000" stroke-width="1.25"/><polygon points="0.2,0 -9.3,-4.6 -6.9,0 -9.3,4.6" fill="#000" transform="translate(194.6,195.9) rotate(0)"/>
<path d="M63,175.4V258" fill="none" stroke="#000" stroke-width="1.25"/><polygon points="0.2,0 -9.3,-4.6 -6.9,0 -9.3,4.6" fill="#000" transform="translate(63,265.2) rotate(90)"/>
<rect x="11.6" y="266.5" width="102.9" height="46.8" rx="6" fill="#d5e8d4" stroke="#82b366" stroke-width="1.2"/>
<use href="#oai" x="10.4" y="265.0" width="21.2" height="21.2"/>
<text x="68.8" y="286.3" font-family="Liberation Sans" font-size="14.2" font-weight="normal" text-anchor="middle" fill="#111" textLength="61.8" lengthAdjust="spacingAndGlyphs">DALL·E 3</text>
<text x="62.6" y="303.4" font-family="Liberation Sans" font-size="14.2" font-weight="normal" text-anchor="middle" fill="#111" textLength="82.5" lengthAdjust="spacingAndGlyphs">re-captioning</text>
<path d="M63,313.2V344" fill="none" stroke="#000" stroke-width="1.25"/><polygon points="0.2,0 -9.3,-4.6 -6.9,0 -9.3,4.6" fill="#000" transform="translate(63,351.3) rotate(90)"/>
<rect x="11.6" y="352.6" width="102.9" height="43.4" rx="6" fill="#d5e8d4" stroke="#82b366" stroke-width="1.2"/>
<use href="#oai" x="10.4" y="351.4" width="21.2" height="21.2"/>
<text x="63.2" y="369.5" font-family="Liberation Sans" font-size="14.2" font-weight="normal" text-anchor="middle" fill="#111" textLength="29" lengthAdjust="spacingAndGlyphs">GPT</text>
<text x="60.8" y="386.6" font-family="Liberation Sans" font-size="14.2" font-weight="normal" text-anchor="middle" fill="#111" textLength="93.5" lengthAdjust="spacingAndGlyphs">Text Extending</text>
<text x="130.6" y="206.2" font-family="Liberation Sans" font-size="14.2" font-weight="normal" text-anchor="middle" fill="#111" textLength="93.6" lengthAdjust="spacingAndGlyphs">Prompting with</text>
<text x="133" y="222.8" font-family="Liberation Sans" font-size="14.2" font-weight="normal" text-anchor="middle" fill="#111" textLength="119.3" lengthAdjust="spacingAndGlyphs">images and videos</text>
<polygon points="202.40,182.10 209.40,182.10 276.00,248.70 269.00,248.70" fill="#e2e2e2"/>
<polygon points="202.40,182.10 269.00,248.70 269.00,255.70 202.40,189.10" fill="#8f8f8f"/>
<rect x="269.00" y="248.70" width="7.0" height="7.0" fill="#bcbcbc"/>
<path d="M212.73,185.43H205.73V192.43M216.06,188.76H209.06V195.76M219.39,192.09H212.39V199.09M222.72,195.42H215.72V202.42M226.05,198.75H219.05V205.75M229.38,202.08H222.38V209.08M232.71,205.41H225.71V212.41M236.04,208.74H229.04V215.74M239.37,212.07H232.37V219.07M242.70,215.40H235.70V222.40M246.03,218.73H239.03V225.73M249.36,222.06H242.36V229.06M252.69,225.39H245.69V232.39M256.02,228.72H249.02V235.72M259.35,232.05H252.35V239.05M262.68,235.38H255.68V242.38M266.01,238.71H259.01V245.71M269.34,242.04H262.34V249.04M272.67,245.37H265.67V252.37M276.00,248.70H269.00V255.70" fill="none" stroke="#fff" stroke-width="0.8"/>
<circle cx="196.20" cy="175.80" r="0.75" fill="#222"/>
<circle cx="198.20" cy="177.80" r="0.75" fill="#222"/>
<circle cx="200.10" cy="179.70" r="0.75" fill="#222"/>
<text x="169.3" y="267.5" font-family="Liberation Sans" font-size="12" font-weight="bold" text-anchor="start" fill="#000" textLength="107.2" lengthAdjust="spacingAndGlyphs">Conditional Latent</text>
<text x="279.8" y="267.5" font-family="Liberation Serif" font-style="italic" font-size="15.5" text-anchor="start" fill="#000">z</text>
<text x="286.5" y="270" font-family="Liberation Serif" font-style="italic" font-size="10.5" text-anchor="start" fill="#000">c</text>
<path d="M276.7,224.8H311" fill="none" stroke="#000" stroke-width="1.25"/><polygon points="0.2,0 -9.3,-4.6 -6.9,0 -9.3,4.6" fill="#000" transform="translate(318,224.8) rotate(0)"/>
<rect x="174.6" y="277.4" width="124.7" height="122.2" rx="15" fill="#fff2cc" stroke="#d6b656" stroke-width="1.2"/>
<text x="232.5" y="290.5" font-family="Liberation Sans" font-size="12.2" font-weight="bold" text-anchor="middle" fill="#000" textLength="75.2" lengthAdjust="spacingAndGlyphs">Conditioning</text>
<rect x="193" y="297.6" width="85.8" height="25.2" fill="#fff" stroke="#000" stroke-width="1.1"/>
<text x="235.5" y="314.6" font-family="Liberation Sans" font-size="12" font-weight="normal" text-anchor="middle" fill="#111">Image</text>
<rect x="193" y="328.4" width="85.8" height="24.8" fill="#fff" stroke="#000" stroke-width="1.1"/>
<text x="235.5" y="345" font-family="Liberation Sans" font-size="12" font-weight="normal" text-anchor="middle" fill="#111">Video</text>
<rect x="193" y="358.1" width="85.8" height="30.8" fill="#fff" stroke="#000" stroke-width="1.1"/>
<text x="235.5" y="370.5" font-family="Liberation Sans" font-size="12" font-weight="normal" text-anchor="middle" fill="#111">Text</text>
<text x="235.5" y="385" font-family="Liberation Sans" font-size="12" font-weight="normal" text-anchor="middle" fill="#111">Description</text>
<path d="M114.5,373.6H186" fill="none" stroke="#000" stroke-width="1.25"/><polygon points="0.2,0 -9.3,-4.6 -6.9,0 -9.3,4.6" fill="#000" transform="translate(192.6,373.6) rotate(0)"/>
<path d="M278.8,373.4H311" fill="none" stroke="#000" stroke-width="1.25"/><polygon points="0.2,0 -9.3,-4.6 -6.9,0 -9.3,4.6" fill="#000" transform="translate(318,373.4) rotate(0)"/>
<path d="M193,308.2H143.7V247.7H188" fill="none" stroke="#000" stroke-width="1.1" stroke-dasharray="3 3"/><polygon points="0.2,0 -9.3,-4.6 -6.9,0 -9.3,4.6" fill="#000" transform="translate(194.5,247.7) rotate(0)"/>
<path d="M193,340.4H134.6V232.7H188" fill="none" stroke="#000" stroke-width="1.1" stroke-dasharray="3 3"/><polygon points="0.2,0 -9.3,-4.6 -6.9,0 -9.3,4.6" fill="#000" transform="translate(194.5,232.7) rotate(0)"/>
<rect x="318.4" y="189.5" width="82.6" height="210.3" rx="13" fill="#ebe3f0" stroke="#5a3030" stroke-width="1.2"/>
<text x="359" y="184.5" font-family="Liberation Sans" font-size="14.2" font-weight="bold" text-anchor="middle" fill="#000">N x</text>
<text x="359.3" y="282.4" font-family="Liberation Sans" font-size="14.2" font-weight="bold" text-anchor="middle" fill="#000" textLength="81.6" lengthAdjust="spacingAndGlyphs">Transformer</text>
<text x="359.3" y="300.4" font-family="Liberation Sans" font-size="14.2" font-weight="bold" text-anchor="middle" fill="#000">Encoder</text>
<text x="359.3" y="318" font-family="Liberation Sans" font-size="14.2" font-weight="bold" text-anchor="middle" fill="#000">(DiT)</text>
<path d="M401,295.3H414" fill="none" stroke="#000" stroke-width="1.25"/><polygon points="0.2,0 -9.3,-4.6 -6.9,0 -9.3,4.6" fill="#000" transform="translate(420.5,295.3) rotate(0)"/>
<polygon points="428.00,247.70 435.00,247.70 501.60,314.30 494.60,314.30" fill="#e2e2e2"/>
<polygon points="428.00,247.70 494.60,314.30 494.60,321.30 428.00,254.70" fill="#8f8f8f"/>
<rect x="494.60" y="314.30" width="7.0" height="7.0" fill="#bcbcbc"/>
<path d="M438.33,251.03H431.33V258.03M441.66,254.36H434.66V261.36M444.99,257.69H437.99V264.69M448.32,261.02H441.32V268.02M451.65,264.35H444.65V271.35M454.98,267.68H447.98V274.68M458.31,271.01H451.31V278.01M461.64,274.34H454.64V281.34M464.97,277.67H457.97V284.67M468.30,281.00H461.30V288.00M471.63,284.33H464.63V291.33M474.96,287.66H467.96V294.66M478.29,290.99H471.29V297.99M481.62,294.32H474.62V301.32M484.95,297.65H477.95V304.65M488.28,300.98H481.28V307.98M491.61,304.31H484.61V311.31M494.94,307.64H487.94V314.64M498.27,310.97H491.27V317.97M501.60,314.30H494.60V321.30" fill="none" stroke="#fff" stroke-width="0.8"/>
<circle cx="421.80" cy="241.40" r="0.75" fill="#222"/>
<circle cx="423.80" cy="243.40" r="0.75" fill="#222"/>
<circle cx="425.70" cy="245.30" r="0.75" fill="#222"/>
<path d="M503,282H517" fill="none" stroke="#000" stroke-width="1.25"/><polygon points="0.2,0 -9.3,-4.6 -6.9,0 -9.3,4.6" fill="#000" transform="translate(523.3,282) rotate(0)"/>
<rect x="527.6" y="226.6" width="72.5" height="111.9" rx="12" fill="#dae8fc" stroke="#6c8ebf" stroke-width="1.2"/>
<text x="563.2" y="261.6" font-family="Liberation Sans" font-size="14.2" font-weight="bold" text-anchor="middle" fill="#000">Linear</text>
<text x="563.2" y="279" font-family="Liberation Sans" font-size="14.2" font-weight="bold" text-anchor="middle" fill="#000">Decoder</text>
<text x="563.2" y="296.2" font-family="Liberation Sans" font-size="14.2" font-weight="bold" text-anchor="middle" fill="#000">and</text>
<text x="563.2" y="313.2" font-family="Liberation Sans" font-size="14.2" font-weight="bold" text-anchor="middle" fill="#000">Reshape</text>
<path d="M600.2,282H618" fill="none" stroke="#000" stroke-width="1.25"/><polygon points="0.2,0 -9.3,-4.6 -6.9,0 -9.3,4.6" fill="#000" transform="translate(625.4,282) rotate(0)"/>
<rect x="628.80" y="247.60" width="97.28" height="54.72" fill="#b2b2b2"/>
<polygon points="628.80,247.60 726.08,247.60 723.98,245.50 626.70,245.50" fill="#dcdcdc"/>
<polygon points="628.80,247.60 628.80,302.32 626.70,300.22 626.70,245.50" fill="#777"/>
<path d="M628.80,251.06V247.60l-2.10,-2.10M634.88,251.06V247.60l-2.10,-2.10M640.96,251.06V247.60l-2.10,-2.10M647.04,251.06V247.60l-2.10,-2.10M653.12,251.06V247.60l-2.10,-2.10M659.20,251.06V247.60l-2.10,-2.10M665.28,251.06V247.60l-2.10,-2.10M671.36,251.06V247.60l-2.10,-2.10M677.44,251.06V247.60l-2.10,-2.10M683.52,251.06V247.60l-2.10,-2.10M689.60,251.06V247.60l-2.10,-2.10M695.68,251.06V247.60l-2.10,-2.10M701.76,251.06V247.60l-2.10,-2.10M707.84,251.06V247.60l-2.10,-2.10M713.92,251.06V247.60l-2.10,-2.10M720.00,251.06V247.60l-2.10,-2.10M726.08,251.06V247.60l-2.10,-2.10" fill="none" stroke="#fff" stroke-width="0.6"/>
<path d="M632.42,247.60H628.80l-2.10,-2.10M632.42,253.68H628.80l-2.10,-2.10M632.42,259.76H628.80l-2.10,-2.10M632.42,265.84H628.80l-2.10,-2.10M632.42,271.92H628.80l-2.10,-2.10M632.42,278.00H628.80l-2.10,-2.10M632.42,284.08H628.80l-2.10,-2.10M632.42,290.16H628.80l-2.10,-2.10M632.42,296.24H628.80l-2.10,-2.10M632.42,302.32H628.80l-2.10,-2.10" fill="none" stroke="#fff" stroke-width="0.85"/>
<path d="M723.98,245.30H626.50V300.22" fill="none" stroke="#fff" stroke-width="0.35"/>
<rect x="632.12" y="250.76" width="97.28" height="54.72" fill="#b2b2b2"/>
<polygon points="632.12,250.76 729.40,250.76 727.30,248.66 630.02,248.66" fill="#dcdcdc"/>
<polygon points="632.12,250.76 632.12,305.48 630.02,303.38 630.02,248.66" fill="#777"/>
<path d="M632.12,254.22V250.76l-2.10,-2.10M638.20,254.22V250.76l-2.10,-2.10M644.28,254.22V250.76l-2.10,-2.10M650.36,254.22V250.76l-2.10,-2.10M656.44,254.22V250.76l-2.10,-2.10M662.52,254.22V250.76l-2.10,-2.10M668.60,254.22V250.76l-2.10,-2.10M674.68,254.22V250.76l-2.10,-2.10M680.76,254.22V250.76l-2.10,-2.10M686.84,254.22V250.76l-2.10,-2.10M692.92,254.22V250.76l-2.10,-2.10M699.00,254.22V250.76l-2.10,-2.10M705.08,254.22V250.76l-2.10,-2.10M711.16,254.22V250.76l-2.10,-2.10M717.24,254.22V250.76l-2.10,-2.10M723.32,254.22V250.76l-2.10,-2.10M729.40,254.22V250.76l-2.10,-2.10" fill="none" stroke="#fff" stroke-width="0.6"/>
<path d="M635.74,250.76H632.12l-2.10,-2.10M635.74,256.84H632.12l-2.10,-2.10M635.74,262.92H632.12l-2.10,-2.10M635.74,269.00H632.12l-2.10,-2.10M635.74,275.08H632.12l-2.10,-2.10M635.74,281.16H632.12l-2.10,-2.10M635.74,287.24H632.12l-2.10,-2.10M635.74,293.32H632.12l-2.10,-2.10M635.74,299.40H632.12l-2.10,-2.10M635.74,305.48H632.12l-2.10,-2.10" fill="none" stroke="#fff" stroke-width="0.85"/>
<path d="M727.30,248.46H629.82V303.38" fill="none" stroke="#fff" stroke-width="0.35"/>
<rect x="635.44" y="253.92" width="97.28" height="54.72" fill="#b2b2b2"/>
<polygon points="635.44,253.92 732.72,253.92 730.62,251.82 633.34,251.82" fill="#dcdcdc"/>
<polygon points="635.44,253.92 635.44,308.64 633.34,306.54 633.34,251.82" fill="#777"/>
<path d="M635.44,257.38V253.92l-2.10,-2.10M641.52,257.38V253.92l-2.10,-2.10M647.60,257.38V253.92l-2.10,-2.10M653.68,257.38V253.92l-2.10,-2.10M659.76,257.38V253.92l-2.10,-2.10M665.84,257.38V253.92l-2.10,-2.10M671.92,257.38V253.92l-2.10,-2.10M678.00,257.38V253.92l-2.10,-2.10M684.08,257.38V253.92l-2.10,-2.10M690.16,257.38V253.92l-2.10,-2.10M696.24,257.38V253.92l-2.10,-2.10M702.32,257.38V253.92l-2.10,-2.10M708.40,257.38V253.92l-2.10,-2.10M714.48,257.38V253.92l-2.10,-2.10M720.56,257.38V253.92l-2.10,-2.10M726.64,257.38V253.92l-2.10,-2.10M732.72,257.38V253.92l-2.10,-2.10" fill="none" stroke="#fff" stroke-width="0.6"/>
<path d="M639.06,253.92H635.44l-2.10,-2.10M639.06,260.00H635.44l-2.10,-2.10M639.06,266.08H635.44l-2.10,-2.10M639.06,272.16H635.44l-2.10,-2.10M639.06,278.24H635.44l-2.10,-2.10M639.06,284.32H635.44l-2.10,-2.10M639.06,290.40H635.44l-2.10,-2.10M639.06,296.48H635.44l-2.10,-2.10M639.06,302.56H635.44l-2.10,-2.10M639.06,308.64H635.44l-2.10,-2.10" fill="none" stroke="#fff" stroke-width="0.85"/>
<path d="M730.62,251.62H633.14V306.54" fill="none" stroke="#fff" stroke-width="0.35"/>
<rect x="638.76" y="257.08" width="97.28" height="54.72" fill="#b2b2b2"/>
<polygon points="638.76,257.08 736.04,257.08 733.94,254.98 636.66,254.98" fill="#dcdcdc"/>
<polygon points="638.76,257.08 638.76,311.80 636.66,309.70 636.66,254.98" fill="#777"/>
<path d="M638.76,260.54V257.08l-2.10,-2.10M644.84,260.54V257.08l-2.10,-2.10M650.92,260.54V257.08l-2.10,-2.10M657.00,260.54V257.08l-2.10,-2.10M663.08,260.54V257.08l-2.10,-2.10M669.16,260.54V257.08l-2.10,-2.10M675.24,260.54V257.08l-2.10,-2.10M681.32,260.54V257.08l-2.10,-2.10M687.40,260.54V257.08l-2.10,-2.10M693.48,260.54V257.08l-2.10,-2.10M699.56,260.54V257.08l-2.10,-2.10M705.64,260.54V257.08l-2.10,-2.10M711.72,260.54V257.08l-2.10,-2.10M717.80,260.54V257.08l-2.10,-2.10M723.88,260.54V257.08l-2.10,-2.10M729.96,260.54V257.08l-2.10,-2.10M736.04,260.54V257.08l-2.10,-2.10" fill="none" stroke="#fff" stroke-width="0.6"/>
<path d="M642.38,257.08H638.76l-2.10,-2.10M642.38,263.16H638.76l-2.10,-2.10M642.38,269.24H638.76l-2.10,-2.10M642.38,275.32H638.76l-2.10,-2.10M642.38,281.40H638.76l-2.10,-2.10M642.38,287.48H638.76l-2.10,-2.10M642.38,293.56H638.76l-2.10,-2.10M642.38,299.64H638.76l-2.10,-2.10M642.38,305.72H638.76l-2.10,-2.10M642.38,311.80H638.76l-2.10,-2.10" fill="none" stroke="#fff" stroke-width="0.85"/>
<path d="M733.94,254.78H636.46V309.70" fill="none" stroke="#fff" stroke-width="0.35"/>
<rect x="642.08" y="260.24" width="97.28" height="54.72" fill="#b2b2b2"/>
<polygon points="642.08,260.24 739.36,260.24 737.26,258.14 639.98,258.14" fill="#dcdcdc"/>
<polygon points="642.08,260.24 642.08,314.96 639.98,312.86 639.98,258.14" fill="#777"/>
<path d="M642.08,263.70V260.24l-2.10,-2.10M648.16,263.70V260.24l-2.10,-2.10M654.24,263.70V260.24l-2.10,-2.10M660.32,263.70V260.24l-2.10,-2.10M666.40,263.70V260.24l-2.10,-2.10M672.48,263.70V260.24l-2.10,-2.10M678.56,263.70V260.24l-2.10,-2.10M684.64,263.70V260.24l-2.10,-2.10M690.72,263.70V260.24l-2.10,-2.10M696.80,263.70V260.24l-2.10,-2.10M702.88,263.70V260.24l-2.10,-2.10M708.96,263.70V260.24l-2.10,-2.10M715.04,263.70V260.24l-2.10,-2.10M721.12,263.70V260.24l-2.10,-2.10M727.20,263.70V260.24l-2.10,-2.10M733.28,263.70V260.24l-2.10,-2.10M739.36,263.70V260.24l-2.10,-2.10" fill="none" stroke="#fff" stroke-width="0.6"/>
<path d="M645.70,260.24H642.08l-2.10,-2.10M645.70,266.32H642.08l-2.10,-2.10M645.70,272.40H642.08l-2.10,-2.10M645.70,278.48H642.08l-2.10,-2.10M645.70,284.56H642.08l-2.10,-2.10M645.70,290.64H642.08l-2.10,-2.10M645.70,296.72H642.08l-2.10,-2.10M645.70,302.80H642.08l-2.10,-2.10M645.70,308.88H642.08l-2.10,-2.10M645.70,314.96H642.08l-2.10,-2.10" fill="none" stroke="#fff" stroke-width="0.85"/>
<path d="M737.26,257.94H639.78V312.86" fill="none" stroke="#fff" stroke-width="0.35"/>
<rect x="645.40" y="263.40" width="97.28" height="54.72" fill="#b2b2b2"/>
<polygon points="645.40,263.40 742.68,263.40 740.58,261.30 643.30,261.30" fill="#dcdcdc"/>
<polygon points="645.40,263.40 645.40,318.12 643.30,316.02 643.30,261.30" fill="#777"/>
<path d="M645.40,318.12V263.40l-2.10,-2.10M651.48,318.12V263.40l-2.10,-2.10M657.56,318.12V263.40l-2.10,-2.10M663.64,318.12V263.40l-2.10,-2.10M669.72,318.12V263.40l-2.10,-2.10M675.80,318.12V263.40l-2.10,-2.10M681.88,318.12V263.40l-2.10,-2.10M687.96,318.12V263.40l-2.10,-2.10M694.04,318.12V263.40l-2.10,-2.10M700.12,318.12V263.40l-2.10,-2.10M706.20,318.12V263.40l-2.10,-2.10M712.28,318.12V263.40l-2.10,-2.10M718.36,318.12V263.40l-2.10,-2.10M724.44,318.12V263.40l-2.10,-2.10M730.52,318.12V263.40l-2.10,-2.10M736.60,318.12V263.40l-2.10,-2.10M742.68,318.12V263.40l-2.10,-2.10" fill="none" stroke="#fff" stroke-width="0.6"/>
<path d="M742.68,263.40H645.40l-2.10,-2.10M742.68,269.48H645.40l-2.10,-2.10M742.68,275.56H645.40l-2.10,-2.10M742.68,281.64H645.40l-2.10,-2.10M742.68,287.72H645.40l-2.10,-2.10M742.68,293.80H645.40l-2.10,-2.10M742.68,299.88H645.40l-2.10,-2.10M742.68,305.96H645.40l-2.10,-2.10M742.68,312.04H645.40l-2.10,-2.10M742.68,318.12H645.40l-2.10,-2.10" fill="none" stroke="#fff" stroke-width="0.85"/>
<path d="M740.58,261.10H643.10V316.02" fill="none" stroke="#fff" stroke-width="0.35"/>
<path d="M744.8,283.5H752" fill="none" stroke="#000" stroke-width="1.25"/><polygon points="0.2,0 -9.3,-4.6 -6.9,0 -9.3,4.6" fill="#000" transform="translate(759,283.5) rotate(0)"/>
<polygon points="760.2,253.8 819.7,234 819.7,330.8 760.2,310.4" fill="#f5f5f5" stroke="#666" stroke-width="1.2"/>
<text x="790.4" y="278.6" font-family="Liberation Sans" font-size="14.2" font-weight="bold" text-anchor="middle" fill="#505050">Visual</text>
<text x="790.2" y="296.2" font-family="Liberation Sans" font-size="14.2" font-weight="bold" text-anchor="middle" fill="#505050">Decoder</text>
<text x="785" y="346" font-family="Liberation Sans" font-size="14.2" font-weight="bold" text-anchor="middle" fill="#000">VAE</text>
<text x="749" y="364" font-family="Liberation Sans" font-size="14.2" font-weight="bold" text-anchor="start" fill="#000" textLength="57" lengthAdjust="spacingAndGlyphs">Decoder</text>
<text x="810" y="364" font-family="Liberation Serif" font-style="italic" font-size="18.5" text-anchor="start" fill="#000">D</text>
<rect x="832.00" y="233.50" width="131.5" height="74" fill="#f4f6f6"/>
<use href="#sceneDark" x="832.80" y="234.00" width="130.5" height="73.0"/>
<rect x="836.00" y="237.50" width="131.5" height="74" fill="#f4f6f6"/>
<use href="#sceneDark" x="836.80" y="238.00" width="130.5" height="73.0"/>
<rect x="840.00" y="241.50" width="131.5" height="74" fill="#f4f6f6"/>
<use href="#scene" x="840.80" y="242.00" width="130.5" height="73.0"/>
<rect x="844.00" y="245.50" width="131.5" height="74" fill="#f4f6f6"/>
<use href="#scene" x="844.80" y="246.00" width="130.5" height="73.0"/>
<rect x="848.00" y="249.50" width="131.5" height="74" fill="#f4f6f6"/>
<use href="#scene" x="848.80" y="250.00" width="130.5" height="73.0"/>
<rect x="852.00" y="253.50" width="131.5" height="74" fill="#f4f6f6"/>
<use href="#scene" x="852.80" y="254.00" width="130.5" height="73.0"/>
<rect x="856.00" y="257.50" width="131.5" height="74" fill="#f4f6f6"/>
<use href="#scene" x="856.80" y="258.00" width="130.5" height="73.0"/>
<text x="860.3" y="357.5" font-family="Liberation Sans" font-size="14.2" font-weight="bold" text-anchor="start" fill="#000" textLength="107" lengthAdjust="spacingAndGlyphs">Predicted Video</text>
<text x="972.8" y="357.5" font-family="Liberation Serif" font-style="italic" font-size="17.5" text-anchor="start" fill="#000">x̃</text>
<text x="885.6" y="392.4" font-family="Liberation Sans" font-size="11" font-weight="normal" text-anchor="start" fill="#333" textLength="75" lengthAdjust="spacingAndGlyphs">By @liltom_eth</text>
</svg></body></html>
